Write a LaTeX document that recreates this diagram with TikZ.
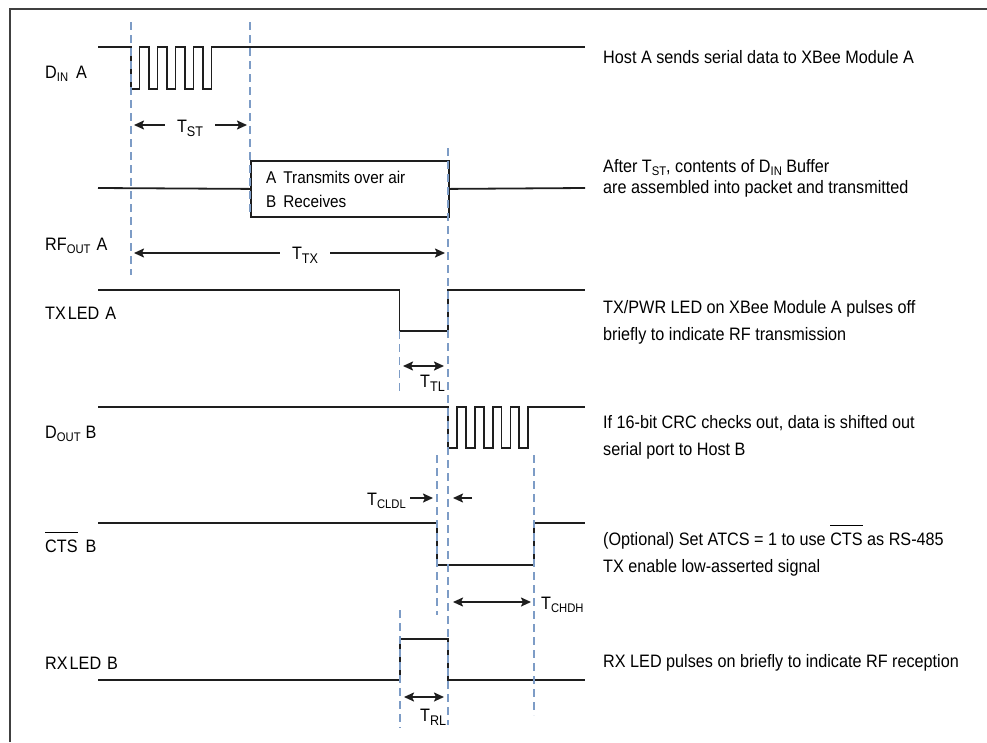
\documentclass[tikz,border=0pt]{standalone}
\usepackage{fontspec}
\setmainfont{Liberation Sans}[FakeStretch=0.9]
\usepackage{xcolor}
\definecolor{cWire}{HTML}{1E1E1E}
\definecolor{cGuide}{HTML}{7D9CC6}
\definecolor{cFrame}{HTML}{404040}
\usetikzlibrary{positioning,arrows.meta,calc}
\newcommand{\sigfont}{\fontsize{18}{22}\selectfont}
\newcommand{\boxfont}{\fontsize{17}{21}\selectfont}
\newcommand{\subtxt}[1]{\raisebox{-3.5pt}{\fontsize{12.5}{13}\selectfont #1}}
\newcommand{\dimsub}[1]{\raisebox{-4pt}{\fontsize{14}{14}\selectfont #1}}
\newcommand{\barred}[1]{\vbox{\hrule height 1.3pt\kern 6pt\hbox{#1}}}
\tikzset{
  wave/.style={draw=cWire,line width=1.8pt},
  guide/.style={draw=cGuide,line width=1.4pt,dash pattern=on 8pt off 5pt},
  border-line/.style={draw=cFrame,line width=2pt},
  sig-name/.style={anchor=base west,inner sep=0pt,font=\sigfont},
  note/.style={anchor=base west,inner sep=0pt,font=\sigfont},
  dim-lbl/.style={inner xsep=12pt,inner ysep=0pt,font=\sigfont},
  dim-arrow/.style={-{Stealth[length=10pt,width=9pt,inset=2pt]},line width=1.8pt,draw=cWire},
  dim-both/.style={{Stealth[length=10pt,width=9pt,inset=2pt]}-{Stealth[length=10pt,width=9pt,inset=2pt]},
    line width=1.8pt,draw=cWire},
  air-box/.style={draw=cWire,line width=1.8pt,minimum width=198pt,minimum height=56pt,inner sep=0pt},
}

\begin{document}
\begin{tikzpicture}[x=1pt,y=-1pt]
  \useasboundingbox (0,0) rectangle (987,742);
  \fill[white] (0,0) rectangle (987,742);
  \draw[border-line] (10,742) -- (10,9) -- (987,9);

  % signal names
  \node[sig-name] (din)  at (45,78)  {D\subtxt{IN}\hspace{8pt}A};
  \node[sig-name] (rf)   at (45,250) {RF\subtxt{OUT}\hspace{6pt}A};
  \node[sig-name] (txl)  at (45,319) {TX\hspace{2pt}LED\hspace{6pt}A};
  \node[sig-name] (dout) at (45,438) {D\subtxt{OUT}\hspace{5pt}B};
  \node[sig-name] (cts)  at (45,552) {\barred{CTS}\hspace{8pt}B};
  \node[sig-name] (rxl)  at (45,669) {RX\hspace{2pt}LED\hspace{6pt}B};

  % waveforms
  \draw[wave] (98,47) foreach \k in {0,...,4} {-- ({131+18*\k},47) -- ({131+18*\k},89)
    -- ({139.5+18*\k},89) -- ({139.5+18*\k},47)} -- (585,47);
  \node[air-box,anchor=north west] (air) at (250,160) {};
  \draw[wave] (98,188) -- (air.west);
  \draw[wave] (air.east) -- (585,188);
  \node[note,font=\boxfont] (air-a) at (266,183) {A\hspace{7pt}Transmits over air};
  \node[note,font=\boxfont] (air-b) at (266,207) {B\hspace{7pt}Receives};
  \draw[wave] (98,290) -- (399.5,290) -- (399.5,331) -- (448,331) -- (448,290) -- (585,290);
  \draw[wave] (98,407) foreach \k in {0,...,4} {-- ({448+17.8*\k},407) -- ({448+17.8*\k},448)
    -- ({457+17.8*\k},448) -- ({457+17.8*\k},407)} -- (585,407);
  \draw[wave] (98,523) -- (437,523) -- (437,565) -- (534,565) -- (534,523) -- (585,523);
  \draw[wave] (98,680) -- (400,680) -- (400,639) -- (448,639) -- (448,680) -- (585,680);

  % timing guides
  \foreach \gx/\gt/\gb in {131/22/275, 250/22/216, 448/148/725, 399.5/331/393,
                           437/455/615, 534/455/715, 400/610/728}
    \draw[guide] (\gx,\gt) -- (\gx,\gb);

  % T_ST and T_TX
  \node[dim-lbl,anchor=base] (tst) at (190,132) {T\dimsub{ST}};
  \coordinate (tst-l) at (134,125);
  \coordinate (tst-r) at (247,125);
  \draw[dim-arrow] (tst.west |- tst-l) -- (tst-l);
  \draw[dim-arrow] (tst.east |- tst-r) -- (tst-r);
  \node[dim-lbl,anchor=base] (ttx) at (305,259) {T\dimsub{TX}};
  \coordinate (ttx-l) at (134,253);
  \coordinate (ttx-r) at (445,253);
  \draw[dim-arrow] (ttx.west |- ttx-l) -- (ttx-l);
  \draw[dim-arrow] (ttx.east |- ttx-r) -- (ttx-r);

  % T_TL
  \node[dim-lbl,anchor=base west,inner xsep=0pt] (ttl) at (420,387) {T\dimsub{TL}};
  \coordinate (ttl-l) at (403,366);
  \coordinate (ttl-r) at (444,366);
  \draw[dim-both] (ttl-l) -- (ttl-r);

  % T_CLDL and T_CHDH
  \node[dim-lbl,anchor=base east,inner xsep=4pt] (tcl) at (410,505) {T\subtxt{CLDL}};
  \coordinate (tcl-r) at (433,498);
  \draw[dim-arrow] (tcl.east |- tcl-r) -- (tcl-r);
  \coordinate (tcl-a) at (472,498);
  \coordinate (tcl-b) at (453,498);
  \draw[dim-arrow] (tcl-a) -- (tcl-b);
  \node[dim-lbl,anchor=base west,inner xsep=0pt] (tch) at (541,609) {T\subtxt{CHDH}};
  \coordinate (tch-l) at (453,602);
  \coordinate (tch-r) at (531,602);
  \draw[dim-both] (tch-l) -- (tch-r);

  % T_RL
  \node[dim-lbl,anchor=base west,inner xsep=0pt] (trl) at (420,721) {T\dimsub{RL}};
  \coordinate (trl-l) at (404,697);
  \coordinate (trl-r) at (444,697);
  \draw[dim-both] (trl-l) -- (trl-r);

  % notes
  \node[note] (n-din)  at (603,63)  {Host A sends serial data to XBee Module A};
  \node[note] (n-rf1)  at (603,172) {After T\subtxt{ST}, contents of D\subtxt{IN} Buffer};
  \node[note] (n-rf2)  at (603,193) {are assembled into packet and transmitted};
  \node[note] (n-tx1)  at (603,313) {TX/PWR LED on XBee Module A pulses off};
  \node[note] (n-tx2)  at (603,340) {briefly to indicate RF transmission};
  \node[note] (n-do1)  at (603,428) {If 16-bit CRC checks out, data is shifted out};
  \node[note] (n-do2)  at (603,455) {serial port to Host B};
  \node[note] (n-cts1) at (603,545) {(Optional) Set ATCS = 1 to use \barred{CTS} as RS-485};
  \node[note] (n-cts2) at (603,572) {TX enable low-asserted signal};
  \node[note] (n-rx)   at (603,667) {RX LED pulses on briefly to indicate RF reception};
\end{tikzpicture}
\end{document}
